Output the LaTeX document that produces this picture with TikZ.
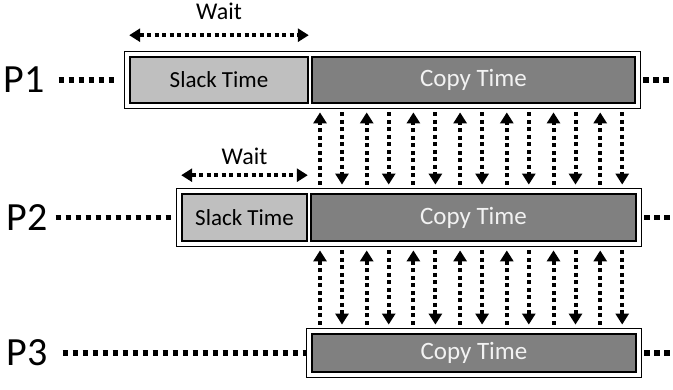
\documentclass[tikz,border=0pt]{standalone}
\usepackage{fontspec}
\setmainfont{Carlito}
\usepackage{xcolor}
\usepackage{tikz}
\usetikzlibrary{arrows.meta,positioning,fit,backgrounds}

\definecolor{slackgray}{gray}{0.75}
\definecolor{copygray}{gray}{0.5}

\begin{document}
\begin{tikzpicture}[x=1pt, y=1pt,
            slackbox/.style = {rectangle, draw, line width=1.6pt, fill=slackgray,
                               minimum height=46pt, inner sep=0pt,
                               font=\fontsize{23}{26}\selectfont},
            copybox/.style = {rectangle, draw, line width=1.6pt, fill=copygray,
                              minimum height=46pt, inner sep=0pt, text=white!95!black,
                              font=\fontsize{25}{29}\selectfont},
            framebox/.style = {rectangle, draw, line width=1.2pt, fill=white, inner sep=5pt},
            proc/.style = {inner sep=0pt, font=\fontsize{40}{46}\selectfont},
            waitlabel/.style = {inner sep=0pt, font=\fontsize{24}{28}\selectfont},
            dotline/.style = {line width=5.5pt, dash pattern=on 5.5pt off 4.5pt},
            sync/.style = {line width=4pt, dash pattern=on 4pt off 3.5pt,
                           -{Triangle[width=13pt,length=11pt]},
                           shorten <=3pt, shorten >=3pt},
            waitarrow/.style = {line width=4pt, dash pattern=on 4pt off 3.5pt,
                                {Triangle[width=13pt,length=11pt]}-{Triangle[width=13pt,length=11pt]}}]
    \useasboundingbox (0,0) rectangle (673,-390);

    % process 1
    \node[slackbox, minimum width=178pt] (slack1) at (219,-80) {Slack Time};
    \node[copybox, minimum width=323pt, right=2.4pt of slack1] (copy1) {Copy Time};
    % process 2
    \node[slackbox, minimum width=125pt, minimum height=47pt] (slack2) at (244.5,-217.5) {Slack Time};
    \node[copybox, minimum width=325pt, minimum height=47pt, right=2.4pt of slack2] (copy2) {Copy Time};
    % process 3
    \node[copybox, minimum width=324pt, minimum height=38pt] (copy3) at (474,-353) {Copy Time};

    \begin{scope}[on background layer]
        \node[framebox, fit=(slack1)(copy1)] (frame1) {};
        \node[framebox, fit=(slack2)(copy2)] (frame2) {};
        \node[framebox, fit=(copy3)] (frame3) {};
    \end{scope}

    \node[proc] (p1) at (24,-80) {P1};
    \node[proc] (p2) at (27,-217.5) {P2};
    \node[proc] (p3) at (27,-353) {P3};

    \coordinate (tail1) at (673,-80);
    \coordinate (tail2) at (673,-217.5);
    \coordinate (tail3) at (673,-353);

    % time lines
    \draw[dotline, shorten <=14pt, shorten >=6pt] (p1.east) -- (frame1.west);
    \draw[dotline, shorten <=8pt, shorten >=2pt] (p2.east) -- (frame2.west);
    \draw[dotline, shorten <=15pt] (p3.east) -- (frame3.west);
    \draw[dotline, shorten <=2pt] (frame1.east) -- (tail1);
    \draw[dotline, shorten <=2pt] (frame2.east) -- (tail2);
    \draw[dotline, shorten <=2pt] (frame3.east) -- (tail3);

    % waiting
    \draw[waitarrow] ([yshift=21pt]slack1.north west) --
        node[waitlabel, above=14pt] (wait1) {Wait} ([yshift=21pt]slack1.north east);
    \draw[waitarrow] ([yshift=18pt]slack2.north west) --
        node[waitlabel, above=9pt] (wait2) {Wait} ([yshift=18pt]slack2.north east);

    % copies between neighbours
    \foreach \i in {0,...,6} {
        \pgfmathsetmacro{\xa}{320+46.7*\i}
        \pgfmathsetmacro{\xb}{342+46.7*\i}
        \draw[sync] (\xa,0 |- frame2.north) -- (\xa,0 |- frame1.south);
        \draw[sync] (\xb,0 |- frame1.south) -- (\xb,0 |- frame2.north);
        \draw[sync] (\xa,0 |- frame3.north) -- (\xa,0 |- frame2.south);
        \draw[sync] (\xb,0 |- frame2.south) -- (\xb,0 |- frame3.north);
    }
\end{tikzpicture}
\end{document}
